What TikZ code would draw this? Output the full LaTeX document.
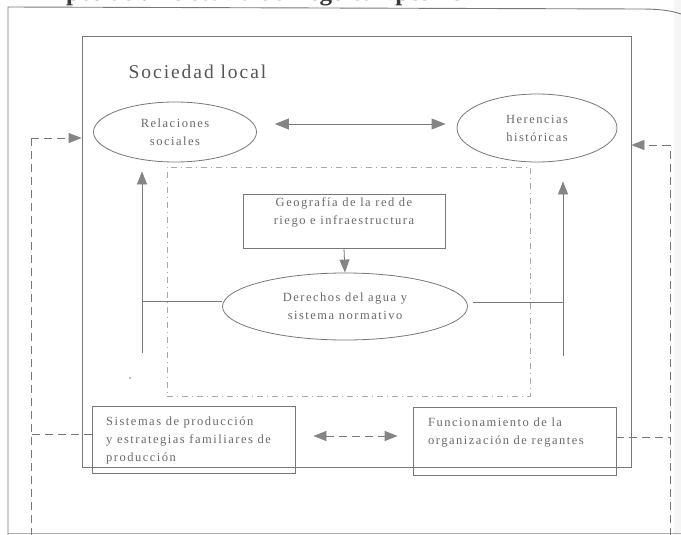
\documentclass[tikz,border=0pt]{standalone}
\usepackage{fontspec}
\setmainfont{Liberation Serif}
\newfontfamily\lblfont[LetterSpace=12]{Liberation Serif}
\newfontfamily\socfont[LetterSpace=10]{Liberation Serif}
\usetikzlibrary{shapes.geometric,arrows.meta}
\definecolor{ln}{HTML}{787878}
\definecolor{tx}{HTML}{6A6A6A}
\definecolor{ah}{HTML}{858585}
\definecolor{dd}{HTML}{A8A8A8}
\definecolor{st}{HTML}{555555}
\definecolor{tt}{HTML}{3A3A3A}
\tikzset{
  lbl/.style={font=\lblfont\fontsize{12.5}{18}\selectfont, text=tx, align=center, inner sep=0pt},
  ellnode/.style={ellipse, draw=ln, line width=0.8pt, inner sep=0pt},
  boxnode/.style={rectangle, draw=ln, line width=0.8pt, inner sep=0pt},
  sline/.style={draw=ln, line width=0.8pt},
  arr/.style={draw=ln, line width=0.8pt, -{Triangle[length=13pt,width=10pt,color=ah]}},
  dblarr/.style={draw=ln, line width=0.8pt, {Triangle[length=14pt,width=11pt,color=ah]}-{Triangle[length=14pt,width=11pt,color=ah]}},
  dline/.style={draw=ln, line width=0.8pt, dash pattern=on 8pt off 5pt},
  darr/.style={dline, -{Triangle[length=13pt,width=10pt,color=ah]}},
  ddbl/.style={dline, {Triangle[length=13pt,width=10pt,color=ah]}-{Triangle[length=13pt,width=10pt,color=ah]}},
  zonebox/.style={draw=dd, line width=0.7pt, dash pattern=on 6pt off 4pt on 1pt off 4pt}
}
\begin{document}
\begin{tikzpicture}[x=1pt,y=-1pt]
\useasboundingbox (0,0) rectangle (681,535);
\fill[white] (0,0) rectangle (681,535);
\fill[gray!8] (674,0) rectangle (681,535);
% title (cut off by page top)
\node[anchor=base west, font=\bfseries\fontsize{25}{25}\selectfont, text=tt, inner sep=0pt] (title) at (66,1) {pos de un sistema de riego campesino};
% outer frame
\draw[ln, line width=0.9pt] (8,536) -- (8,7) -- (640,9) .. controls (662,9) and (672,11) .. (681,14);
\draw[ln!60, line width=0.7pt] (8,533) -- (681,533);
% sociedad local frame
\node[boxnode, minimum width=549pt, minimum height=431pt] (soc) at (356.5,251.5) {};
\node[font=\socfont\fontsize{19.5}{22}\selectfont, text=st, inner sep=0pt] (soct) at (197.5,72) {Sociedad local};
% dash-dot zone
\node[zonebox, minimum width=363pt, minimum height=229pt] (zona) at (348.5,281.5) {};
% nodes
\node[ellnode, lbl, minimum width=163pt, minimum height=60pt] (rel) at (175,132) {Relaciones\\sociales};
\node[ellnode, lbl, minimum width=160pt, minimum height=68pt] (her) at (537,128) {Herencias\\históricas};
\node[boxnode, minimum width=202pt, minimum height=54pt] (geo) at (344,221) {};
\node[lbl] (geot) at (344,212.5) {Geografía de la red de\\riego e infraestructura};
\node[ellnode, lbl, minimum width=245pt, minimum height=67pt] (der) at (345,306.5) {Derechos del agua y\\sistema normativo};
\node[boxnode, minimum width=203pt, minimum height=67pt] (sis) at (193.5,439.5) {};
\node[lbl, align=left, anchor=west] (sist) at (106,440.5) {Sistemas de producción\\y estrategias familiares de\\producción};
\node[boxnode, minimum width=203pt, minimum height=68pt] (fun) at (514.5,441) {};
\node[lbl, align=left, anchor=west] (funt) at (428,433) {Funcionamiento de la\\organización de regantes};
% connectors
\draw[dblarr, shorten <=18pt, shorten >=11pt] (rel.east |- 0,124) -- (her.west |- 0,124);
\draw[arr] (geo.south) -- (der.north);
\coordinate (lb) at (142,353);
\coordinate (lj) at (142,301);
\draw[sline] (der.west |- lj) -- (lj);
\draw[arr, shorten >=9pt] (lb) -- (lb |- rel.south);
\coordinate (rb) at (563,356);
\coordinate (rj) at (563,302);
\draw[sline, shorten <=5pt] (der.east |- rj) -- (rj);
\draw[arr, shorten >=19pt] (rb) -- (rb |- her.south);
% dashed loops
\coordinate (lt) at (31,138);
\coordinate (lm) at (31,434);
\coordinate (lbt) at (31,536);
\draw[dline] (sis.west |- lm) -- (lm);
\draw[dline] (lbt) -- (lt);
\draw[darr] (lt) -- (soc.west |- lt);
\coordinate (rt) at (670,145);
\coordinate (rm) at (670,437);
\coordinate (rbt) at (670,536);
\draw[dline] (fun.east |- rm) -- (rm);
\draw[dline] (rbt) -- (rt);
\draw[darr] (rt) -- (soc.east |- rt);
\draw[ddbl, shorten <=18pt, shorten >=15pt] (sis.east |- 0,436) -- (fun.west |- 0,436);
% speck
\fill[ln] (130,378) circle (0.9);
\end{tikzpicture}
\end{document}
